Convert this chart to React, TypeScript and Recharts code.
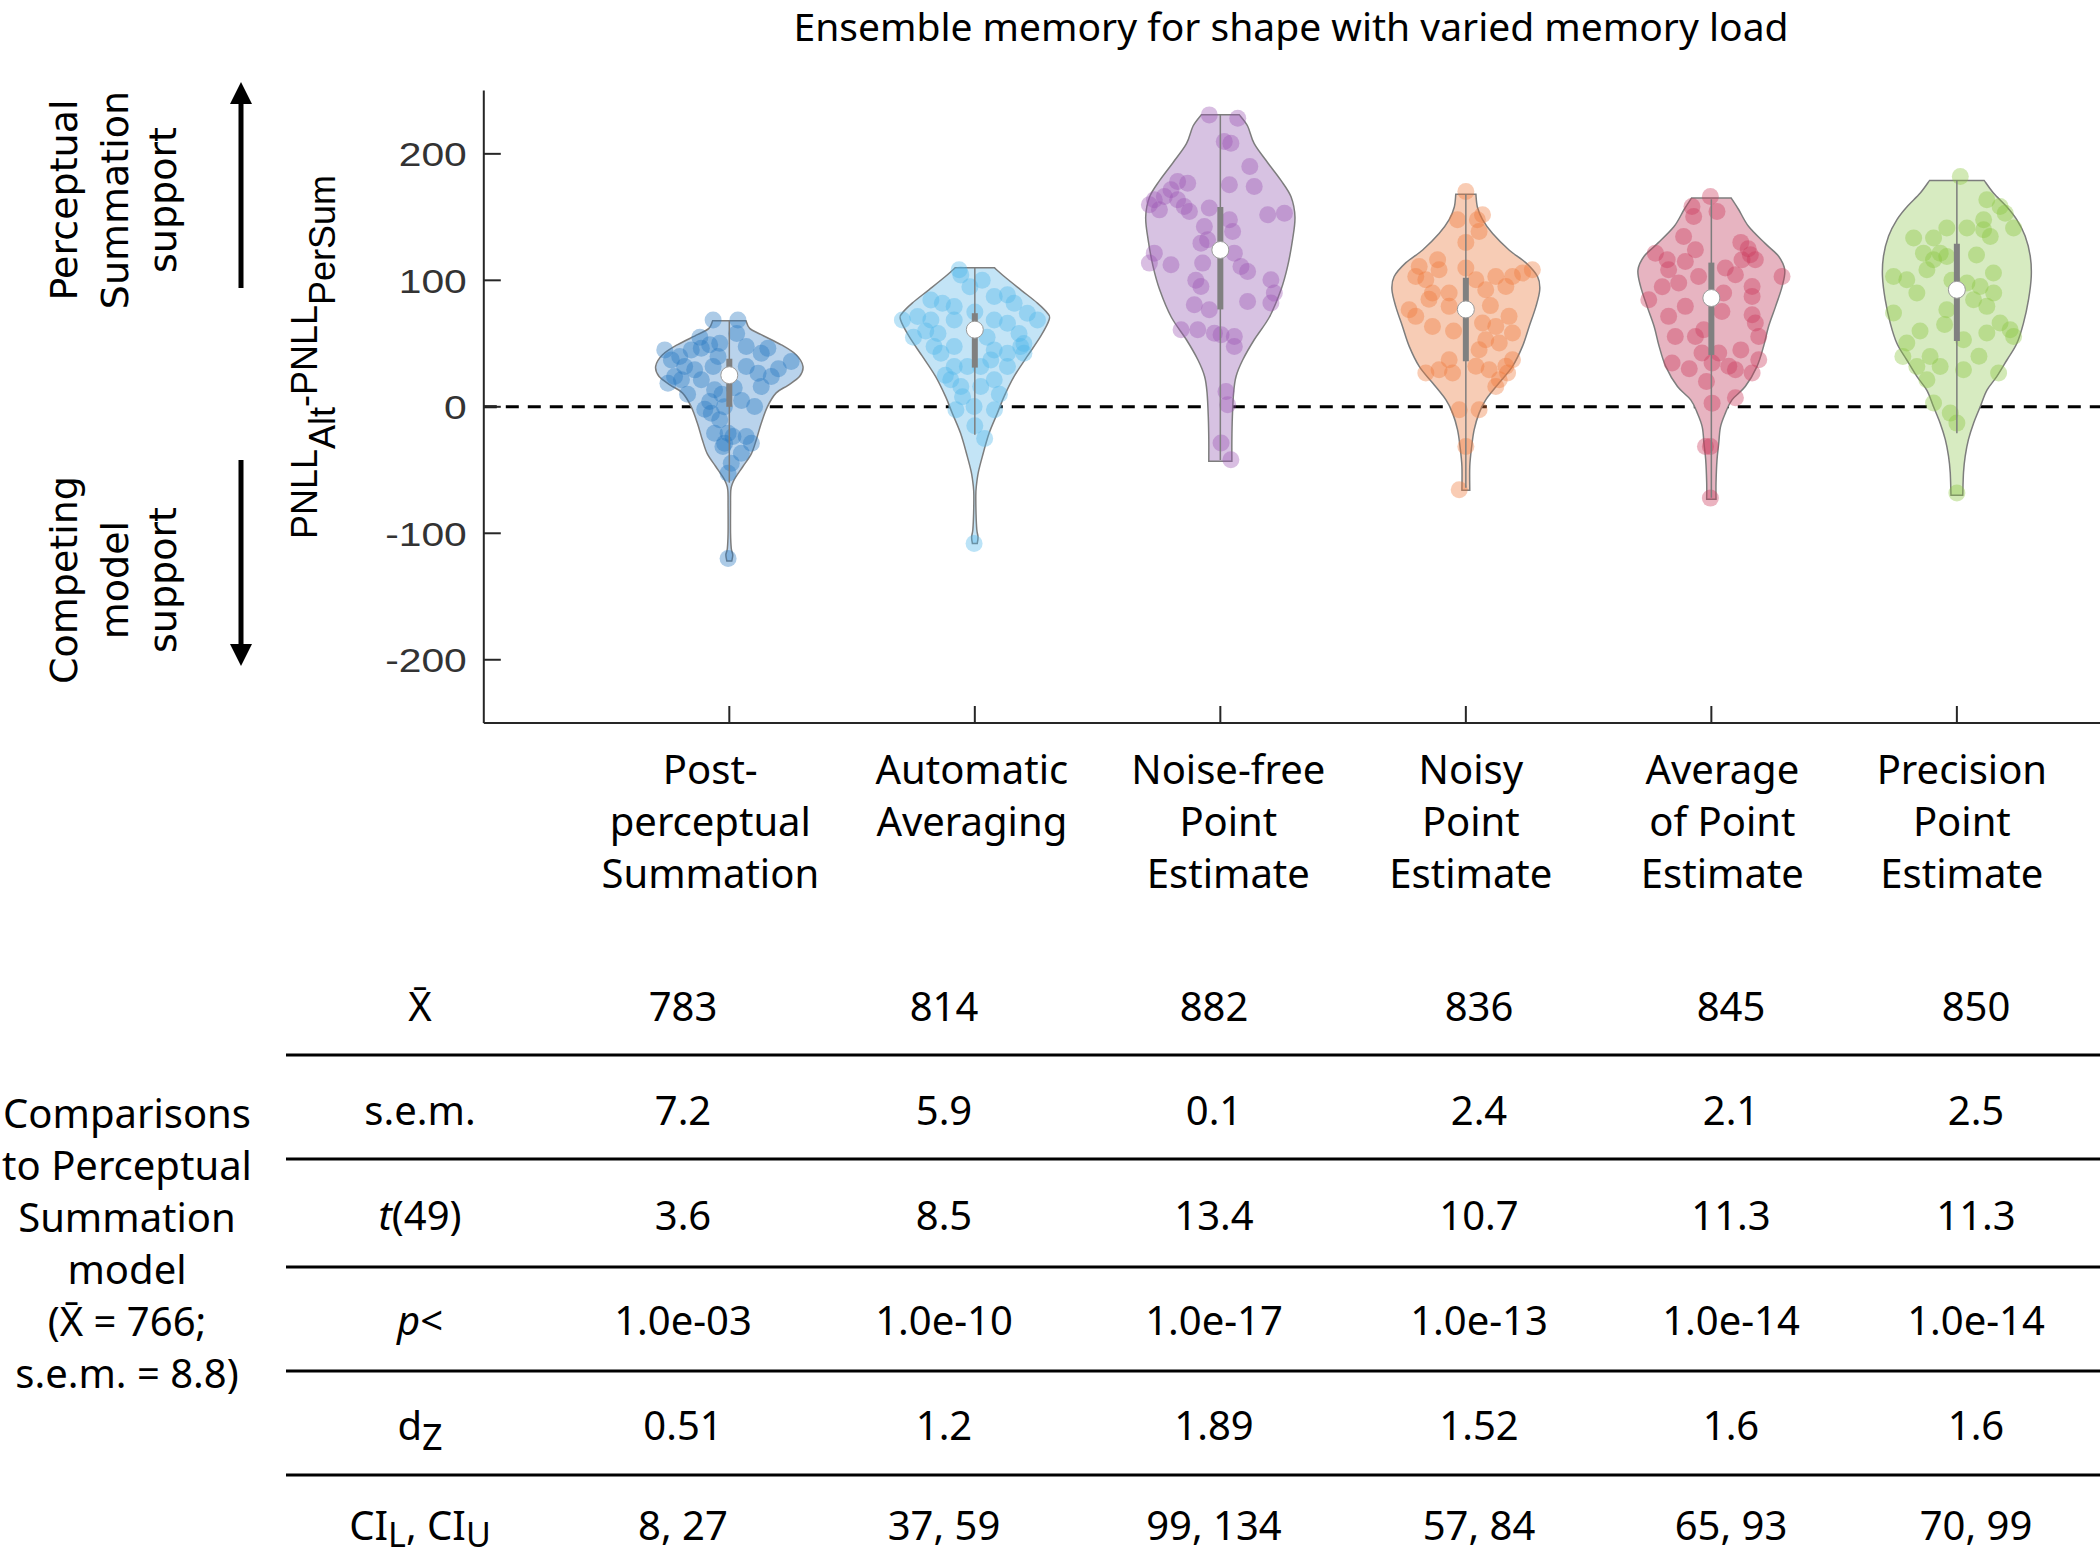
import React from "react";
import { ScatterChart, Scatter, XAxis, YAxis, ReferenceLine } from "recharts";

// categories along x, and their positions on the numeric axis
const categories = [
  "Post-\nperceptual\nSummation",
  "Automatic\nAveraging",
  "Noise-free\nPoint\nEstimate",
  "Noisy\nPoint\nEstimate",
  "Average\nof Point\nEstimate",
  "Precision\nPoint\nEstimate",
];
const catX = [1, 2, 3, 4, 5, 6];
const yTicks = [-200, -100, 0, 100, 200];

// box summary per violin
const medians = [25, 61, 124, 77, 86, 92.5];
const q1 = [0, 31, 77, 36, 41, 52];
const q3 = [38, 74, 158, 102, 114, 129];
const whiskerLo = [-60, -22, -42, -64, -72, -21];
const whiskerHi = [68, 110, 231, 168, 164, 179];

// violin outlines: [value, half width in category units], bottom to top
const profPost = [[-122, 0.01], [-117, 0.014], [-112, 0.008], [-100, 0.005], [-80, 0.005], [-66, 0.006], [-60, 0.014], [-55, 0.028], [-47, 0.056], [-37, 0.09], [-26, 0.11], [-13, 0.13], [0, 0.155], [11, 0.191], [17, 0.239], [24, 0.286], [32, 0.3], [41, 0.273], [49, 0.212], [57, 0.13], [62, 0.083], [68, 0.068]];
const profAuto = [[-108, 0.01], [-103, 0.013], [-97, 0.008], [-85, 0.005], [-70, 0.004], [-63, 0.006], [-52, 0.014], [-39, 0.031], [-21, 0.058], [-5, 0.092], [8, 0.119], [24, 0.16], [40, 0.214], [56, 0.269], [69, 0.303], [74, 0.296], [82, 0.255], [92.5, 0.187], [103, 0.12], [110, 0.079]];
const profNoiseFree = [[-43, 0.047], [-26, 0.047], [-8, 0.049], [11, 0.054], [24, 0.064], [37, 0.091], [53, 0.138], [71, 0.2], [92.5, 0.247], [111, 0.274], [132, 0.294], [150, 0.304], [166, 0.288], [179, 0.247], [193, 0.193], [208, 0.138], [222, 0.111], [231, 0.077]];
const profNoisy = [[-66, 0.016], [-47, 0.016], [-31, 0.024], [-18, 0.034], [-5, 0.054], [5.5, 0.081], [19, 0.136], [32, 0.19], [48, 0.231], [63.5, 0.258], [79, 0.285], [92.5, 0.301], [103, 0.292], [114, 0.244], [124, 0.176], [137, 0.109], [148, 0.068], [158, 0.047], [168, 0.041]];
const profAverage = [[-73, 0.019], [-60, 0.019], [-42, 0.023], [-29, 0.03], [-16, 0.037], [-5, 0.057], [5.5, 0.084], [16, 0.138], [32, 0.186], [48, 0.213], [63.5, 0.233], [79, 0.261], [95, 0.288], [108, 0.299], [119, 0.274], [129, 0.22], [142.5, 0.152], [156, 0.111], [165, 0.081]];
const profPrecision = [[-70, 0.024], [-52, 0.027], [-39, 0.034], [-26, 0.047], [-13, 0.068], [0, 0.095], [13, 0.122], [24, 0.163], [37, 0.204], [50, 0.244], [66, 0.271], [85, 0.292], [103, 0.303], [119, 0.299], [135, 0.278], [148, 0.244], [158, 0.204], [169, 0.149], [179, 0.111]];

// subjects: [horizontal jitter, value]
const ptsPost = [[-0.066, 68.7], [0.035, 68.7], [-0.263, 45], [-0.236, 37.1], [-0.202, 39.7], [-0.155, 45], [-0.114, 46.3], [-0.08, 49], [-0.039, 50.3], [-0.182, 31.8], [-0.141, 29.2], [-0.223, 23.9], [-0.25, 18.7], [-0.195, 21.3], [-0.114, 21.3], [-0.066, 31.8], [-0.046, 39.7], [0.069, 47.7], [0.13, 42.4], [0.157, 46.3], [0.252, 35.8], [0.117, 26.6], [0.069, 31.8], [0.171, 23.9], [0.13, 16], [0.103, 0.2], [0.069, -23.5], [0.09, -28.8], [-0.06, 13.4], [-0.08, 4.2], [-0.073, -5.1], [-0.039, -10.3], [-0.06, -20.9], [-0.005, -20.9], [-0.026, -31.4], [0.015, -23.5], [0.008, -44.6], [-0.005, -52.5], [0.049, -36.7], [-0.019, -28.8], [-0.005, -120], [0.03, 58], [-0.12, 55], [0.2, 30], [-0.03, 10], [0.05, 5], [-0.1, -2], [-0.02, 0], [0.02, 15], [-0.17, 10]];
const ptsAuto = [[-0.064, 108.3], [-0.057, 104.3], [-0.179, 84.5], [-0.132, 81.9], [-0.084, 79.3], [0.079, 87.2], [0.133, 88.5], [0.16, 81.9], [0.214, 74], [0.255, 68.7], [-0.295, 68.7], [-0.233, 71.4], [-0.179, 68.7], [-0.084, 68.7], [0.079, 68.7], [0.133, 66.1], [-0.166, 47.6], [-0.138, 42.4], [-0.084, 47.6], [0.079, 45], [0.133, 42.4], [0.187, 47.6], [0.2, 42.4], [-0.084, 31.8], [-0.03, 31.8], [0.024, 31.8], [0.065, 37.1], [0.133, 31.8], [-0.098, 21.3], [-0.057, 16], [0.024, 16], [0.079, 21.3], [-0.003, 0.2], [0.08, -2.4], [-0.077, -2.4], [-0.003, -108], [-0.02, 95], [0.03, 100], [-0.2, 60], [0.18, 58], [-0.25, 55], [0.1, 10], [-0.05, 8], [0, -15], [0.04, -25], [-0.12, 25], [0.2, 50], [-0.15, 58], [0.05, 55], [0, 75]];
const ptsNoiseFree = [[-0.045, 230.8], [0.071, 228.2], [0.016, 209.8], [0.043, 208.4], [-0.174, 178.1], [-0.133, 176.8], [-0.201, 171.6], [-0.228, 166.3], [-0.269, 163.7], [-0.289, 159.7], [-0.248, 155.7], [-0.174, 163.7], [-0.147, 158.4], [-0.126, 154.4], [-0.045, 157.1], [0.037, 175.5], [0.138, 174.2], [0.037, 147.8], [0.05, 138.6], [0.193, 151.8], [0.261, 153.1], [-0.065, 142.6], [-0.079, 129.4], [-0.052, 132], [-0.269, 121.5], [-0.289, 113.6], [-0.201, 112.3], [-0.072, 113.6], [0.057, 121.5], [0.084, 111], [0.111, 107], [0.206, 100.4], [0.22, 89.9], [0.206, 82], [-0.079, 95.1], [-0.106, 80.6], [-0.045, 76.7], [0.111, 83.3], [-0.16, 60.9], [-0.092, 60.9], [-0.024, 58.2], [0.003, 56.9], [0.057, 55.6], [0.057, 47.7], [0.023, 12.1], [0.03, 1.6], [0.003, -28.7], [0.043, -41.9], [0.12, 190], [-0.1, 100]];
const ptsNoisy = [[0, 170.3], [-0.034, 147.9], [0.047, 147.9], [0.068, 151.8], [0.054, 138.6], [-0.115, 116.2], [-0.19, 111], [-0.204, 103.1], [-0.163, 100.4], [-0.109, 108.3], [-0.136, 89.9], [-0.068, 89.9], [0, 109.7], [0.041, 100.4], [0.081, 92.5], [0.122, 103.1], [0.19, 103.1], [0.231, 105.7], [0.163, 95.2], [0.271, 108.3], [-0.231, 76.7], [-0.204, 71.5], [-0.136, 63.5], [-0.068, 79.4], [0.068, 66.2], [0.122, 63.5], [0.176, 71.5], [0.081, 53], [0.136, 50.4], [0.054, 45.1], [0.19, 58.3], [-0.068, 37.2], [-0.109, 29.3], [-0.163, 26.7], [-0.054, 26.7], [0.041, 32], [0.095, 29.3], [0.163, 32], [0.19, 37.2], [0.136, 21.4], [0.17, 26.7], [0.122, 16.1], [-0.027, -2.3], [0.054, -2.3], [0, -31.3], [-0.027, -65.6], [0, 130], [-0.15, 85], [0.1, 80], [-0.05, 60]];
const ptsAverage = [[-0.004, 166.3], [-0.079, 158.4], [0.023, 154.5], [-0.072, 150.5], [-0.113, 134.7], [-0.065, 124.2], [-0.228, 121.5], [-0.18, 116.2], [-0.106, 114.9], [-0.174, 108.3], [-0.133, 97.8], [-0.052, 103.1], [0.057, 109.7], [0.098, 104.4], [0.125, 116.2], [0.159, 120.2], [0.179, 116.2], [0.288, 103.1], [0.166, 95.2], [0.166, 87.3], [-0.255, 84.6], [-0.106, 79.4], [-0.174, 71.5], [0.043, 75.4], [0.166, 72.8], [0.179, 66.2], [-0.147, 55.6], [-0.065, 55.6], [0.193, 55.6], [-0.031, 60.9], [-0.038, 42.5], [0.03, 42.5], [-0.16, 34.6], [0.003, 34.6], [0.071, 32], [0.098, 29.3], [0.166, 26.7], [0.193, 37.2], [0.003, 2.9], [0.098, 7.1], [-0.004, -31.3], [-0.024, -31.3], [-0.004, -72.2], [0.12, 130], [0.15, 125], [-0.2, 95], [0.05, 90], [-0.09, 30], [0.12, 45], [-0.02, 20]];
const ptsPrecision = [[0.014, 182.1], [0.122, 163.7], [0.176, 158.4], [0.197, 153.1], [0.109, 147.9], [-0.041, 141.3], [0.041, 141.3], [-0.176, 133.4], [-0.095, 133.4], [0.109, 140], [0.136, 134.7], [0.231, 141.3], [-0.136, 121.5], [-0.068, 121.5], [-0.095, 116.2], [-0.041, 118.9], [-0.258, 103.1], [-0.204, 100.4], [-0.122, 108.3], [0.149, 105.7], [-0.163, 89.9], [0.041, 97.8], [0.095, 95.2], [0.068, 84.6], [-0.258, 74.1], [-0.041, 76.7], [0.122, 79.4], [0.176, 66.2], [0.217, 60.9], [0.231, 55.6], [0.122, 58.3], [0.027, 53], [-0.204, 50.4], [-0.22, 39.8], [-0.109, 39.8], [-0.068, 31.9], [-0.163, 31.9], [0.027, 29.3], [0.17, 26.7], [-0.122, 21.4], [-0.095, 3], [-0.027, -5], [0, -12.9], [0, -68.2], [0.08, 120], [-0.02, 100], [0.15, 90], [-0.05, 65], [0.09, 40], [-0.15, 60]];

// table under the plot
const rowLabels = ["mean", "sem", "t", "p", "dz", "ci"];
const meanRow = ["783", "814", "882", "836", "845", "850"];
const semRow = ["7.2", "5.9", "0.1", "2.4", "2.1", "2.5"];
const tRow = ["3.6", "8.5", "13.4", "10.7", "11.3", "11.3"];
const pRow = ["1.0e-03", "1.0e-10", "1.0e-17", "1.0e-13", "1.0e-14", "1.0e-14"];
const dzRow = ["0.51", "1.2", "1.89", "1.52", "1.6", "1.6"];
const ciRow = ["8, 27", "37, 59", "99, 134", "57, 84", "65, 93", "70, 99"];
const sideNote = ["Comparisons", "to Perceptual", "Summation", "model", "(X\u0304 = 766;", "s.e.m. = 8.8)"];

const profiles = [profPost, profAuto, profNoiseFree, profNoisy, profAverage, profPrecision];
const points = [ptsPost, ptsAuto, ptsNoiseFree, ptsNoisy, ptsAverage, ptsPrecision];
const tableRows = [meanRow, semRow, tRow, pRow, dzRow, ciRow];

const violinFill = ["#b9d3ec", "#c3e4f6", "#d7c2e2", "#f7ccb5", "#e7b4c1", "#d7ebc1"];
const dotColor = ["#2677bf", "#4cb6ea", "#9a55b4", "#ee7a3a", "#cb3659", "#88c43c"];
const edge = "#7d7d7d";
const uiFont = "'Noto Sans', sans-serif";
const axisFont = "'Liberation Sans', Arial, sans-serif";
// small horizontal nudges of the category captions, as in the original layout
const labelShift = [-19, -3, 8, 5, 11, 5];

type Pt = { x: number; y: number };

const spline = (pts: Pt[]) => {
  let d = "";
  for (let i = 0; i < pts.length - 1; i++) {
    const p0 = pts[Math.max(0, i - 1)];
    const p1 = pts[i];
    const p2 = pts[i + 1];
    const p3 = pts[Math.min(pts.length - 1, i + 2)];
    d += ` C${p1.x + (p2.x - p0.x) / 6},${p1.y + (p2.y - p0.y) / 6} ${p2.x - (p3.x - p1.x) / 6},${p2.y - (p3.y - p1.y) / 6} ${p2.x},${p2.y}`;
  }
  return d;
};

const violinLine = (fill: string, n: number) => (props: any) => {
  const pts: Pt[] = props.points || [];
  if (pts.length < 2 * n) return <g />;
  const right = pts.slice(0, n);
  const left = pts.slice(n);
  const d = `M${right[0].x},${right[0].y}` + spline(right) + ` L${left[0].x},${left[0].y}` + spline(left) + " Z";
  return <path d={d} fill={fill} stroke={edge} strokeWidth={1.5} />;
};

const noDot = () => <g />;

const CategoryTick = (props: any) => {
  const { x, y, payload } = props;
  const idx = catX.indexOf(payload.value);
  const lines = idx >= 0 ? categories[idx].split("\n") : [];
  const cx = x + (idx >= 0 ? labelShift[idx] : 0);
  return (
    <g>
      <line x1={x} x2={x} y1={y} y2={y - 17} stroke="#262626" strokeWidth={2} />
      {lines.map((l, i) => (
        <text key={i} x={cx} y={y + 61 + i * 52} textAnchor="middle" fontFamily={uiFont} fontSize={40} fill="#000">
          {l}
        </text>
      ))}
    </g>
  );
};

const ValueTick = (props: any) => {
  const { x, y, payload } = props;
  return (
    <g>
      <line x1={x + 17} x2={x + 34} y1={y} y2={y} stroke="#262626" strokeWidth={2} />
      <text transform={`translate(${x},${y}) scale(1.2,1)`} textAnchor="end" dy="0.36em" fontFamily={axisFont} fontSize={34} fill="#333">
        {payload.value}
      </text>
    </g>
  );
};

const rowHead = (key: string) => {
  switch (key) {
    case "mean":
      return <>X{"\u0304"}</>;
    case "sem":
      return <>s.e.m.</>;
    case "t":
      return (
        <>
          <tspan fontStyle="italic">t</tspan>(49)
        </>
      );
    case "p":
      return (
        <>
          <tspan fontStyle="italic">p</tspan>&lt;
        </>
      );
    case "dz":
      return (
        <>
          d<tspan dy={10} fontSize={36}>Z</tspan>
        </>
      );
    default:
      return (
        <>
          CI<tspan dy={7} fontSize={34}>L</tspan>
          <tspan dy={-7}>, CI</tspan>
          <tspan dy={7} fontSize={34}>U</tspan>
        </>
      );
  }
};

const colX = [683, 944, 1214, 1479, 1731, 1976];
const rowY = [1021, 1125, 1230, 1335, 1440, 1540];
const ruleY = [1055, 1159, 1267, 1371, 1475];

export default function App() {
  const series: React.ReactNode[] = [];
  profiles.forEach((prof, i) => {
    const c = catX[i];
    const outline = [
      ...prof.map(([v, w]) => ({ x: c + w, y: v })),
      ...[...prof].reverse().map(([v, w]) => ({ x: c - w, y: v })),
    ];
    series.push(
      <Scatter key={`v${i}`} data={outline} shape={noDot} line={violinLine(violinFill[i], prof.length)} isAnimationActive={false} />
    );
    series.push(
      <Scatter
        key={`d${i}`}
        data={points[i].map(([dx, v]) => ({ x: c + dx, y: v }))}
        shape={(p: any) => <circle cx={p.cx} cy={p.cy} r={8.5} fill={dotColor[i]} fillOpacity={0.38} />}
        isAnimationActive={false}
      />
    );
    series.push(
      <Scatter
        key={`w${i}`}
        data={[{ x: c, y: whiskerLo[i] }, { x: c, y: whiskerHi[i] }]}
        shape={noDot}
        line={{ stroke: edge, strokeWidth: 1.5 }}
        isAnimationActive={false}
      />
    );
    series.push(
      <Scatter
        key={`q${i}`}
        data={[{ x: c, y: q1[i] }, { x: c, y: q3[i] }]}
        shape={noDot}
        line={{ stroke: "#808080", strokeWidth: 6 }}
        isAnimationActive={false}
      />
    );
    series.push(
      <Scatter
        key={`m${i}`}
        data={[{ x: c, y: medians[i] }]}
        shape={(p: any) => <circle cx={p.cx} cy={p.cy} r={8.5} fill="#fff" stroke="#9a9a9a" strokeWidth={1} />}
        isAnimationActive={false}
      />
    );
  });

  return (
    <div style={{ position: "absolute", left: 0, top: 0, width: 2100, height: 1556, background: "#fff" }}>
      <div style={{ position: "absolute", left: 0, top: 0 }}>
        <ScatterChart width={2100} height={1556} margin={{ top: 90.6, right: 0, bottom: 803, left: 403.8 }}>
          <XAxis
            type="number"
            dataKey="x"
            domain={[0, 6.583]}
            ticks={catX}
            allowDataOverflow
            height={30}
            tickSize={0}
            tickMargin={0}
            tickLine={false}
            axisLine={{ stroke: "#262626", strokeWidth: 2 }}
            tick={<CategoryTick />}
            interval={0}
          />
          <YAxis
            type="number"
            dataKey="y"
            domain={[-250, 250]}
            ticks={yTicks}
            allowDataOverflow
            width={80}
            tickSize={0}
            tickMargin={17}
            tickLine={false}
            axisLine={{ stroke: "#262626", strokeWidth: 2 }}
            tick={<ValueTick />}
            interval={0}
          />
          {series}
          <ReferenceLine y={0} stroke="#000" strokeWidth={3} strokeDasharray="13 9" />
        </ScatterChart>
      </div>
      <svg width={2100} height={1556} style={{ position: "absolute", left: 0, top: 0, pointerEvents: "none" }}>
        <text x={1291} y={41} textAnchor="middle" fontFamily={uiFont} fontSize={39} fill="#000">
          Ensemble memory for shape with varied memory load
        </text>

        {/* direction arrows */}
        <line x1={241} y1={288} x2={241} y2={100} stroke="#000" strokeWidth={5} />
        <polygon points="241,82 230,104 252,104" fill="#000" />
        <line x1={241} y1={460} x2={241} y2={646} stroke="#000" strokeWidth={5} />
        <polygon points="241,666 230,644 252,644" fill="#000" />

        <g transform="translate(0,200) rotate(-90)" fontFamily="'DejaVu Sans', sans-serif" fontSize={38} textAnchor="middle" fill="#000">
          <text x={0} y={77}>Perceptual</text>
          <text x={0} y={128}>Summation</text>
          <text x={0} y={176}>support</text>
        </g>
        <g transform="translate(0,580) rotate(-90)" fontFamily="'DejaVu Sans', sans-serif" fontSize={38} textAnchor="middle" fill="#000">
          <text x={0} y={77}>Competing</text>
          <text x={0} y={128}>model</text>
          <text x={0} y={176}>support</text>
        </g>
        <g transform="translate(0,357) rotate(-90)">
          <text x={0} y={317} textAnchor="middle" fontFamily={axisFont} fontSize={36} fill="#000">
            PNLL<tspan dy={18}>Alt</tspan>
            <tspan dy={-18}>-PNLL</tspan>
            <tspan dy={18}>PerSum</tspan>
          </text>
        </g>

        {/* statistics table */}
        {ruleY.map((y, i) => (
          <line key={`r${i}`} x1={286} x2={2100} y1={y} y2={y} stroke="#000" strokeWidth={3} />
        ))}
        {rowLabels.map((k, r) => (
          <text key={`h${r}`} x={420} y={rowY[r]} textAnchor="middle" fontFamily={uiFont} fontSize={40} fill="#000">
            {rowHead(k)}
          </text>
        ))}
        {tableRows.map((row, r) =>
          row.map((v, c) => (
            <text key={`c${r}-${c}`} x={colX[c]} y={rowY[r]} textAnchor="middle" fontFamily={uiFont} fontSize={40} fill="#000">
              {v}
            </text>
          ))
        )}
        {sideNote.map((s, i) => (
          <text key={`s${i}`} x={127} y={1128 + i * 52} textAnchor="middle" fontFamily={uiFont} fontSize={40} fill="#000">
            {s}
          </text>
        ))}
      </svg>
    </div>
  );
}
